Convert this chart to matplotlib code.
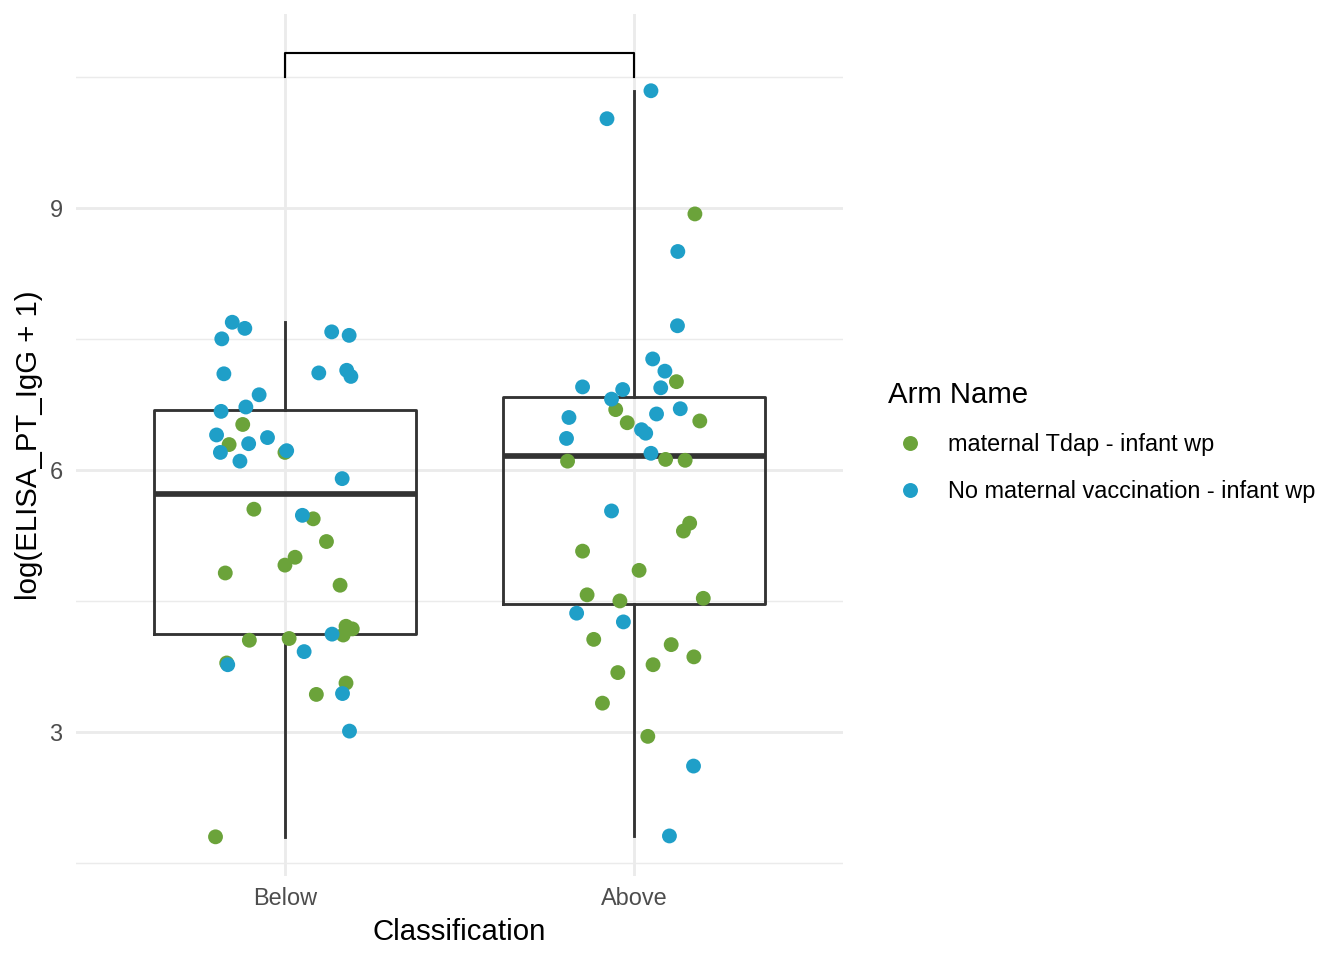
import numpy as np
import matplotlib
matplotlib.use("Agg")
import matplotlib.pyplot as plt
from matplotlib.lines import Line2D

plt.rcParams['font.family'] = ['Liberation Sans', 'DejaVu Sans']

# ---------------- data ----------------
categories = ["Below", "Above"]
arm_names = ["maternal Tdap - infant wp", "No maternal vaccination - infant wp"]
arm_colors = ["#6BA33A", "#1F9FC8"]

below_tdap = [6.52, 6.29, 6.20, 5.55, 5.44, 5.18, 5.00, 4.91, 4.82, 4.68, 4.21, 4.18,
              4.11, 4.05, 4.07, 3.79, 3.56, 3.43, 1.80]
below_tdap_jitter = [-0.121, -0.160, 0.000, -0.089, 0.081, 0.119, 0.029, 0.000, -0.171,
                     0.158, 0.175, 0.193, 0.167, -0.102, 0.012, -0.167, 0.175, 0.090, -0.199]

below_none = [7.69, 7.62, 7.50, 7.58, 7.54, 7.10, 7.11, 7.14, 7.07, 6.86, 6.67, 6.72,
              6.40, 6.30, 6.37, 6.20, 6.10, 6.22, 5.90, 5.48, 4.12, 3.92, 3.77, 3.44, 3.01]
below_none_jitter = [-0.151, -0.115, -0.181, 0.134, 0.184, -0.175, 0.097, 0.177, 0.189,
                     -0.074, -0.183, -0.112, -0.196, -0.104, -0.050, -0.185, -0.129, 0.005,
                     0.164, 0.050, 0.135, 0.055, -0.164, 0.165, 0.185]

above_tdap = [8.93, 7.01, 6.69, 6.54, 6.56, 6.10, 6.12, 6.11, 5.39, 5.30, 5.07, 4.85,
              4.57, 4.50, 4.53, 4.06, 4.00, 3.86, 3.77, 3.68, 3.33, 2.95]
above_tdap_jitter = [0.175, 0.122, -0.052, -0.019, 0.189, -0.190, 0.091, 0.147, 0.160,
                     0.142, -0.147, 0.015, -0.134, -0.040, 0.199, -0.115, 0.107, 0.172,
                     0.055, -0.046, -0.090, 0.040]

above_none = [10.34, 10.02, 8.50, 7.65, 7.27, 7.13, 6.94, 6.95, 6.92, 6.81, 6.70, 6.64,
              6.60, 6.36, 6.46, 6.42, 6.19, 5.53, 4.36, 4.26, 2.61, 1.81]
above_none_jitter = [0.049, -0.077, 0.126, 0.125, 0.054, 0.089, 0.077, -0.147, -0.032,
                     -0.064, 0.133, 0.065, -0.186, -0.193, 0.022, 0.034, 0.049, -0.064,
                     -0.164, -0.030, 0.171, 0.102]

bracket_y = 10.77
bracket_tip = 0.27

y_major = [3, 6, 9]
y_minor = [1.5, 4.5, 7.5, 10.5]

# ---------------- figure ----------------
W, H = 1344, 960
fig = plt.figure(figsize=(7, 5), dpi=192)
ax = fig.add_axes([75.6 / W, (H - 876) / H, 767.6 / W, 862 / H])

groups = {
    "Below": [(below_tdap, below_tdap_jitter), (below_none, below_none_jitter)],
    "Above": [(above_tdap, above_tdap_jitter), (above_none, above_none_jitter)],
}
positions = np.arange(1, len(categories) + 1)

box_data = [np.concatenate([np.asarray(v) for v, _ in groups[c]]) for c in categories]

# axis limits like ggplot (discrete 0.6 expansion, continuous 5%)
ax.set_xlim(positions[0] - 0.6, positions[-1] + 0.6)
all_vals = np.concatenate(box_data)
lo, hi = all_vals.min(), max(all_vals.max(), bracket_y)
rng = hi - lo
ax.set_ylim(lo - 0.05 * rng, hi + 0.05 * rng)

# grid
grid_col = "#EBEBEB"
for y in y_major:
    ax.axhline(y, color=grid_col, lw=1.07, zorder=0)
for y in y_minor:
    ax.axhline(y, color=grid_col, lw=0.53, zorder=0)
for x in positions:
    ax.axvline(x, color=grid_col, lw=1.07, zorder=0)

# boxplots
line_col = "#333333"
ax.boxplot(box_data, positions=positions, widths=0.75, whis=1.5,
           showcaps=False, showfliers=False, patch_artist=False,
           boxprops=dict(color=line_col, lw=1.07),
           whiskerprops=dict(color=line_col, lw=1.07),
           medianprops=dict(color=line_col, lw=2.13, solid_capstyle='butt'),
           zorder=2)

# jittered points
for arm_i in range(len(arm_names)):
    for ci, c in enumerate(categories):
        vals, jit = groups[c][arm_i]
        ax.scatter(positions[ci] + np.asarray(jit), vals, s=31, color=arm_colors[arm_i],
                   edgecolors='none', zorder=3)

# significance bracket
ax.plot([positions[0], positions[0], positions[1], positions[1]],
        [bracket_y - bracket_tip, bracket_y, bracket_y, bracket_y - bracket_tip],
        color="black", lw=0.8, zorder=4)

# axes styling
for s in ax.spines.values():
    s.set_visible(False)
ax.set_xticks(positions)
ax.set_xticklabels(categories)
ax.set_yticks(y_major)
ax.set_yticklabels([str(v) for v in y_major])
ax.tick_params(axis='both', length=0, labelsize=8.8, labelcolor="#4D4D4D")
ax.tick_params(axis='y', pad=4.9)
ax.tick_params(axis='x', pad=4.0)
ax.set_xlabel("Classification", fontsize=11, labelpad=3)
ax.set_ylabel("log(ELISA_PT_IgG + 1)", fontsize=11, labelpad=2.3)

# legend
handles = [Line2D([], [], ls='none', marker='o', markersize=5.6, markerfacecolor=col,
                  markeredgecolor='none') for col in arm_colors]
leg = fig.legend(handles, arm_names, loc='upper left',
                 bbox_to_anchor=(888 / W, 1 - 381 / H), frameon=False,
                 fontsize=8.8, title="Arm Name", title_fontsize=11,
                 alignment='left', borderpad=0, borderaxespad=0,
                 handlelength=1.875, handletextpad=0.68, labelspacing=1.02)

fig.savefig("out.png", dpi=192)
